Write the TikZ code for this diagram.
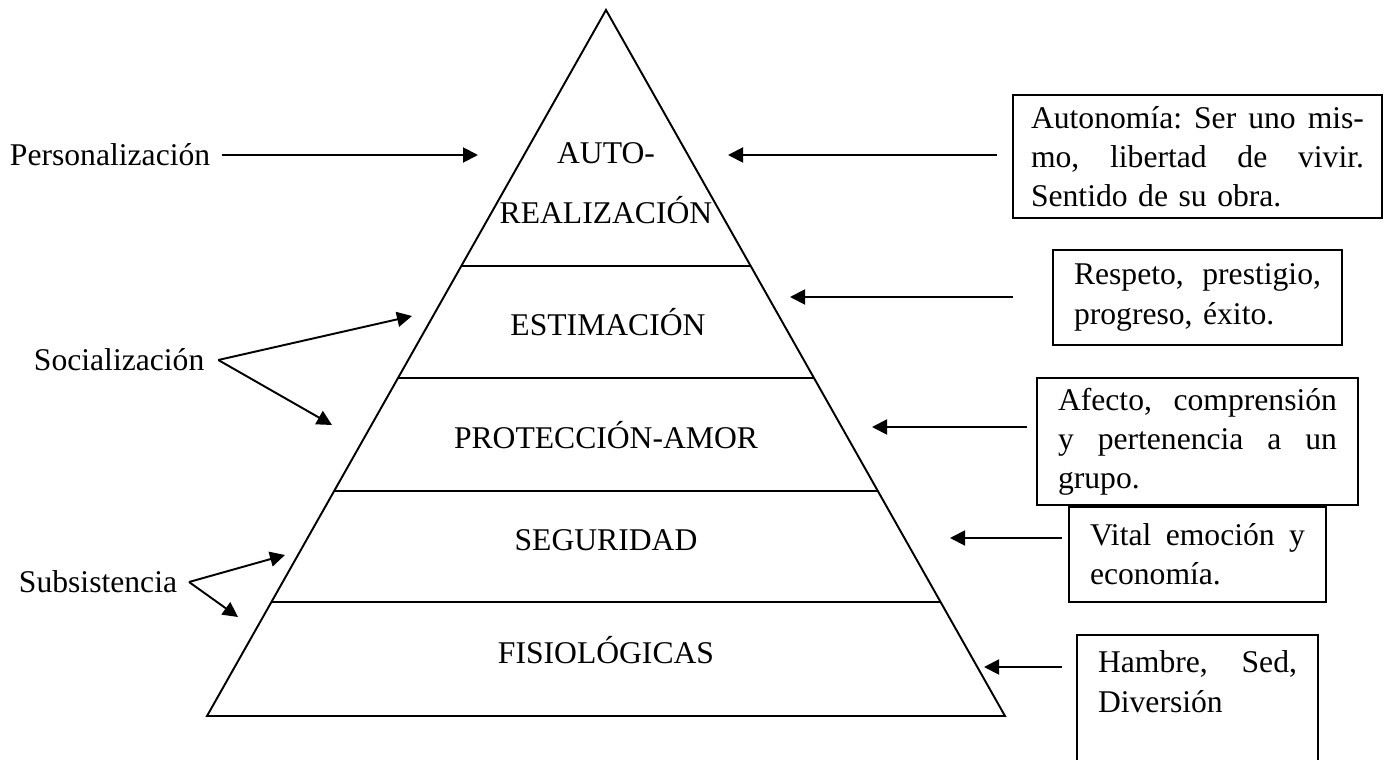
\documentclass[tikz,border=0pt]{standalone}
\usepackage{fontspec}
\setmainfont{Liberation Serif}
\usetikzlibrary{arrows.meta,calc}

\begin{document}
\begin{tikzpicture}[x=0.02cm, y=-0.02cm, line width=1.1pt,
        every node/.style={font=\fontsize{18}{22.3}\selectfont},
        arr/.style={-{Triangle[length=0.3cm,width=0.3cm]}},
        needbox/.style={draw, align=left, inner ysep=0.2cm}]
    \clip (0,0) rectangle (1387,760);

    % Draw the pyramid
    \coordinate (top) at (606,10);
    \coordinate (bl) at (207,716);
    \coordinate (br) at (1005,716);
    \draw[line join=miter] (top) -- (bl) -- (br) -- cycle;
    \foreach \t in {0.3626,0.5212,0.6813,0.8385}
        \draw ($(top)!\t!(bl)$) -- ($(top)!\t!(br)$);

    % Names of the levels
    \node (auto) at (606,153) {AUTO-};
    \node (real) at (606,210) {REALIZACIÓN};
    \node (esti) at (608,322) {ESTIMACIÓN};
    \node (prot) at (606,435) {PROTECCIÓN-AMOR};
    \node (segu) at (606,540) {SEGURIDAD};
    \node (fisi) at (606,650) {FISIOLÓGICAS};

    % Labels on the left
    \node[anchor=west, inner sep=0pt] (pers) at (9,155) {Personalización};
    \node[anchor=west, inner sep=0pt] (soc) at (33,360) {Socialización};
    \node[anchor=west, inner sep=0pt] (subs) at (18,582) {Subsistencia};

    \coordinate (persTip) at (478,155);
    \coordinate (socTipA) at (412,316);
    \coordinate (socTipB) at (332,425);
    \coordinate (subsTipA) at (285,555);
    \coordinate (subsTipB) at (238,617);

    \draw[arr] ([xshift=0.22cm]pers.east) -- (persTip);
    \draw[arr] ([xshift=0.26cm]soc.east) -- (socTipA);
    \draw[arr] ([xshift=0.26cm]soc.east) -- (socTipB);
    \draw[arr] ([xshift=0.22cm]subs.east) -- (subsTipA);
    \draw[arr] ([xshift=0.22cm]subs.east) -- (subsTipB);

    % Boxes on the right
    \node[needbox, text width=6.66cm, inner xsep=0.36cm, minimum height=2.46cm] (autBox) at (1197.5,156.5)
        {Autonomía:\hfill Ser\hfill uno\hfill mis-\\ mo,\hfill libertad\hfill de\hfill vivir.\\ Sentido de su obra.};
    \node[needbox, text width=4.94cm, inner xsep=0.42cm, minimum height=1.9cm] (estBox) at (1197.5,297.5)
        {Respeto,\hfill prestigio,\\ progreso, éxito.};
    \node[needbox, text width=5.58cm, inner xsep=0.42cm, minimum height=1.94cm] (affBox) at (1197.5,441.5)
        {Afecto,\hfill comprensión\\ y\hfill pertenencia\hfill a\hfill un\\ grupo.};
    \node[needbox, text width=4.3cm, inner xsep=0.42cm, minimum height=1.9cm] (vitBox) at (1197.5,554.5)
        {Vital\hfill emoción\hfill y\\ economía.};
    \node[needbox, text width=3.98cm, inner xsep=0.42cm, inner ysep=0.32cm, anchor=north] (hamBox) at (1197.5,634)
        {Hambre,\hfill Sed,\\ Diversión\\ ~\\ ~};

    % Arrows from the boxes
    \coordinate (autFrom) at (997,155);
    \coordinate (autTip) at (728,155);
    \coordinate (estFrom) at (1013,297);
    \coordinate (estTip) at (790,297);
    \coordinate (affFrom) at (1027,427);
    \coordinate (affTip) at (872,427);
    \coordinate (vitFrom) at (1062,538);
    \coordinate (vitTip) at (950,538);
    \coordinate (hamFrom) at (1062,667);
    \coordinate (hamTip) at (984,667);

    \draw[arr] (autFrom) -- (autTip);
    \draw[arr] (estFrom) -- (estTip);
    \draw[arr] (affFrom) -- (affTip);
    \draw[arr] (vitFrom) -- (vitTip);
    \draw[arr] (hamFrom) -- (hamTip);

\end{tikzpicture}
\end{document}
